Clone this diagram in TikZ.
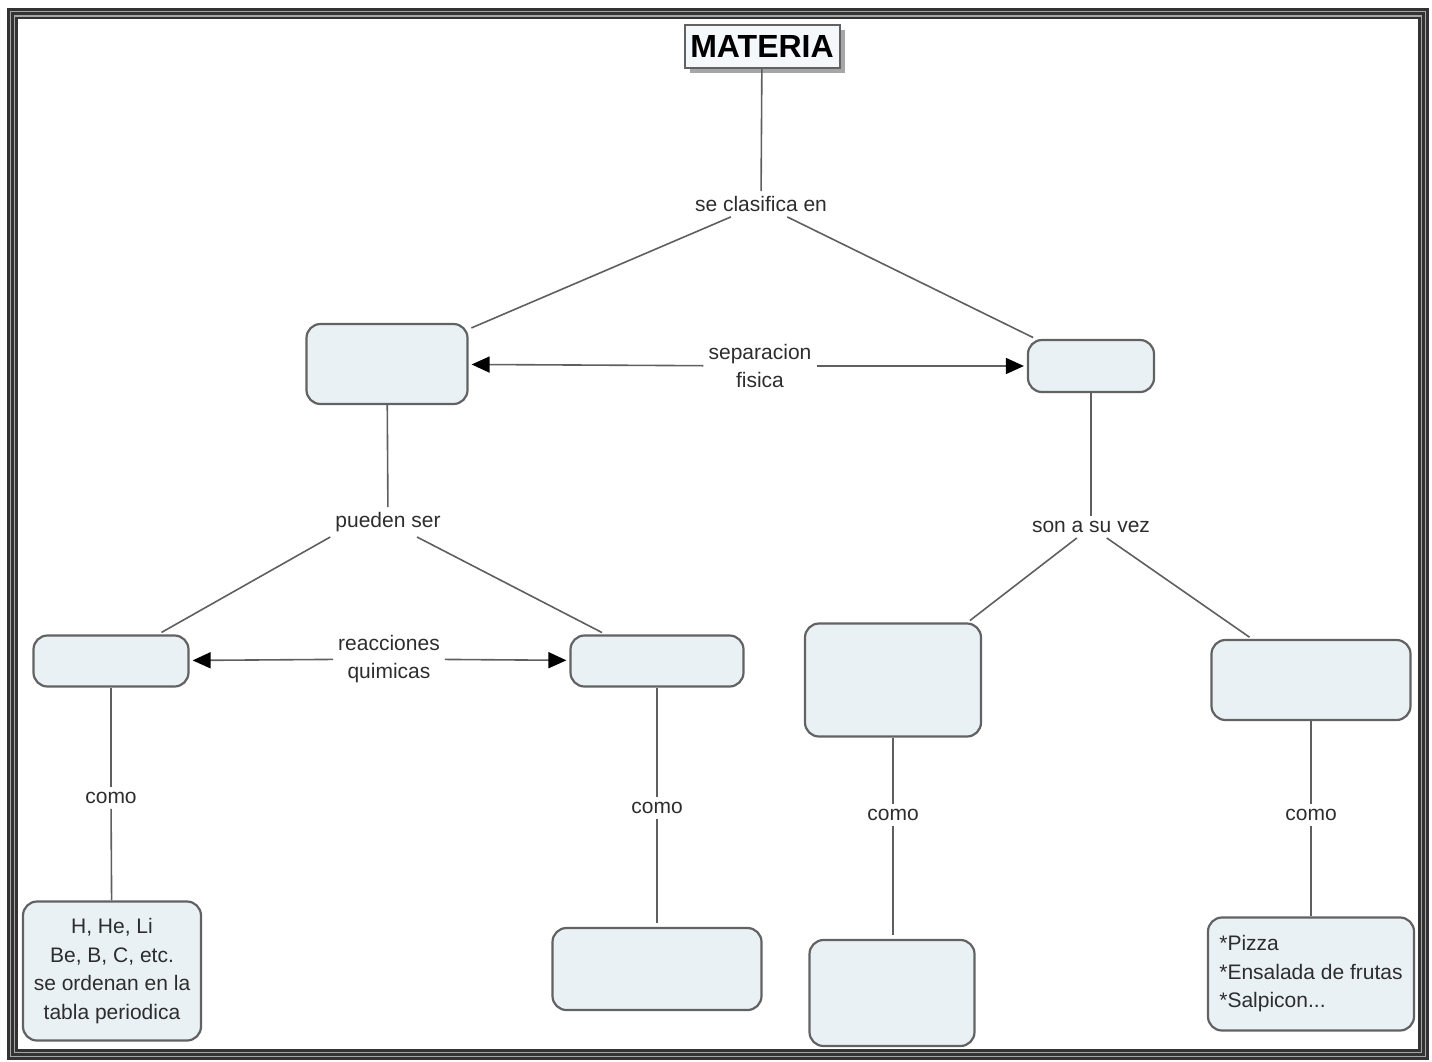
\documentclass[tikz,border=0pt]{standalone}
\usepackage{fontspec}
\setmainfont{Liberation Sans}
\usepackage{tikz}
\usetikzlibrary{arrows.meta,shadows}
\definecolor{boxfill}{RGB}{233,241,245}
\definecolor{boxline}{RGB}{98,98,98}
\definecolor{linkgray}{RGB}{95,95,95}
\definecolor{txtgray}{RGB}{45,45,45}
\newcommand{\mapfont}{\fontsize{21}{28.5}\selectfont}

\begin{document}
\begin{tikzpicture}[
        x=1pt, y=-1pt,
        concept/.style={
            rectangle,
            rounded corners=14pt,
            draw=boxline,
            line width=2.2pt,
            fill=boxfill,
            inner sep=6pt,
            text=txtgray,
            font=\mapfont,
            align=center
        },
        link word/.style={
            font=\mapfont,
            text=txtgray,
            align=center,
            inner sep=5pt
        },
        link/.style={draw=linkgray, line width=1.6pt},
        both/.style={link, -{Triangle[length=18pt,width=16pt,color=black]}}
    ]
        \useasboundingbox (0,0) rectangle (1432,1061);

        % --- FRAME ---
        \draw[line width=11pt, color=black!80] (12.5,13.5) rectangle (1423.5,1054.5);
        \draw[line width=1.2pt, color=gray!70] (10.5,11.5) rectangle (1425.5,1056.5);
        \draw[line width=1.2pt, color=gray!70] (14.5,16) rectangle (1421.5,1052.5);

        % --- ROOT ---
        \node[rectangle, draw=boxline, line width=2pt, fill=boxfill!50, inner sep=0pt,
              minimum width=155pt, minimum height=43pt, font=\fontsize{32}{36}\bfseries,
              drop shadow={shadow xshift=5pt, shadow yshift=-5pt, fill=gray!70, opacity=1}]
            (materia) at (762,46) {MATERIA};

        % --- LINKING WORDS ---
        \node[link word] (clasifica) at (761,204) {se clasifica en};
        \node[link word] (separacion) at (760,366) {separacion\\fisica};
        \node[link word] (pueden) at (388,522) {pueden ser};
        \node[link word] (reacciones) at (389,659) {reacciones\\quimicas};
        \node[link word] (suvez) at (1091,527) {son a su vez};
        \node[link word] (comoC) at (111,798) {como};
        \node[link word] (comoD) at (657,808) {como};
        \node[link word] (comoE) at (893,815) {como};
        \node[link word] (comoF) at (1311,815) {como};

        % --- CONCEPTS ---
        \node[concept, minimum width=161pt, minimum height=80pt] (mezclas) at (387,364) {};
        \node[concept, minimum width=126pt, minimum height=52pt] (puras) at (1091,366) {};
        \node[concept, minimum width=155pt, minimum height=51pt] (elementos) at (111,661) {};
        \node[concept, minimum width=173pt, minimum height=51pt] (compuestos) at (657,661) {};
        \node[concept, minimum width=176pt, minimum height=113pt] (homog) at (893,680) {};
        \node[concept, minimum width=199pt, minimum height=80pt] (heterog) at (1311,680) {};
        \node[concept, minimum width=178pt, minimum height=139pt] (ejElem) at (112,971)
            {H, He, Li\\Be, B, C, etc.\\se ordenan en la\\tabla periodica};
        \node[concept, minimum width=209pt, minimum height=82pt] (ejComp) at (657,969) {};
        \node[concept, minimum width=165pt, minimum height=106pt] (ejHomog) at (892,993) {};
        \node[concept, minimum width=206pt, minimum height=113pt, align=left] (ejHeterog) at (1311,974)
            {*Pizza\\*Ensalada de frutas\\*Salpicon...};

        % --- CONNECTORS ---
        \draw[link] (materia) -- (clasifica);
        \draw[link, shorten >=3pt] (clasifica) -- (mezclas);
        \draw[link, shorten >=3pt] (clasifica) -- (puras);
        \draw[both, shorten >=3pt] (separacion) -- (mezclas);
        \draw[both, shorten >=3pt] (separacion) -- (puras);

        \draw[link] (mezclas) -- (pueden);
        \draw[link, shorten >=4pt] (pueden.south west) -- (elementos);
        \draw[link, shorten >=4pt] (pueden) -- (compuestos);
        \draw[both, shorten >=3pt] (reacciones) -- (elementos);
        \draw[both, shorten >=3pt] (reacciones) -- (compuestos);

        \draw[link] (puras) -- (suvez);
        \draw[link, shorten >=3pt] (suvez) -- (homog);
        \draw[link, shorten >=3pt] (suvez) -- (heterog);

        % --- EXAMPLES ---
        \draw[link] (elementos) -- (comoC);
        \draw[link] (comoC) -- (ejElem);
        \draw[link] (compuestos) -- (comoD);
        \draw[link, shorten >=4pt] (comoD) -- (ejComp);
        \draw[link] (homog) -- (comoE);
        \draw[link, shorten >=4pt] (comoE) -- (comoE |- ejHomog.north);
        \draw[link] (heterog) -- (comoF);
        \draw[link] (comoF) -- (ejHeterog);

    \end{tikzpicture}
\end{document}
